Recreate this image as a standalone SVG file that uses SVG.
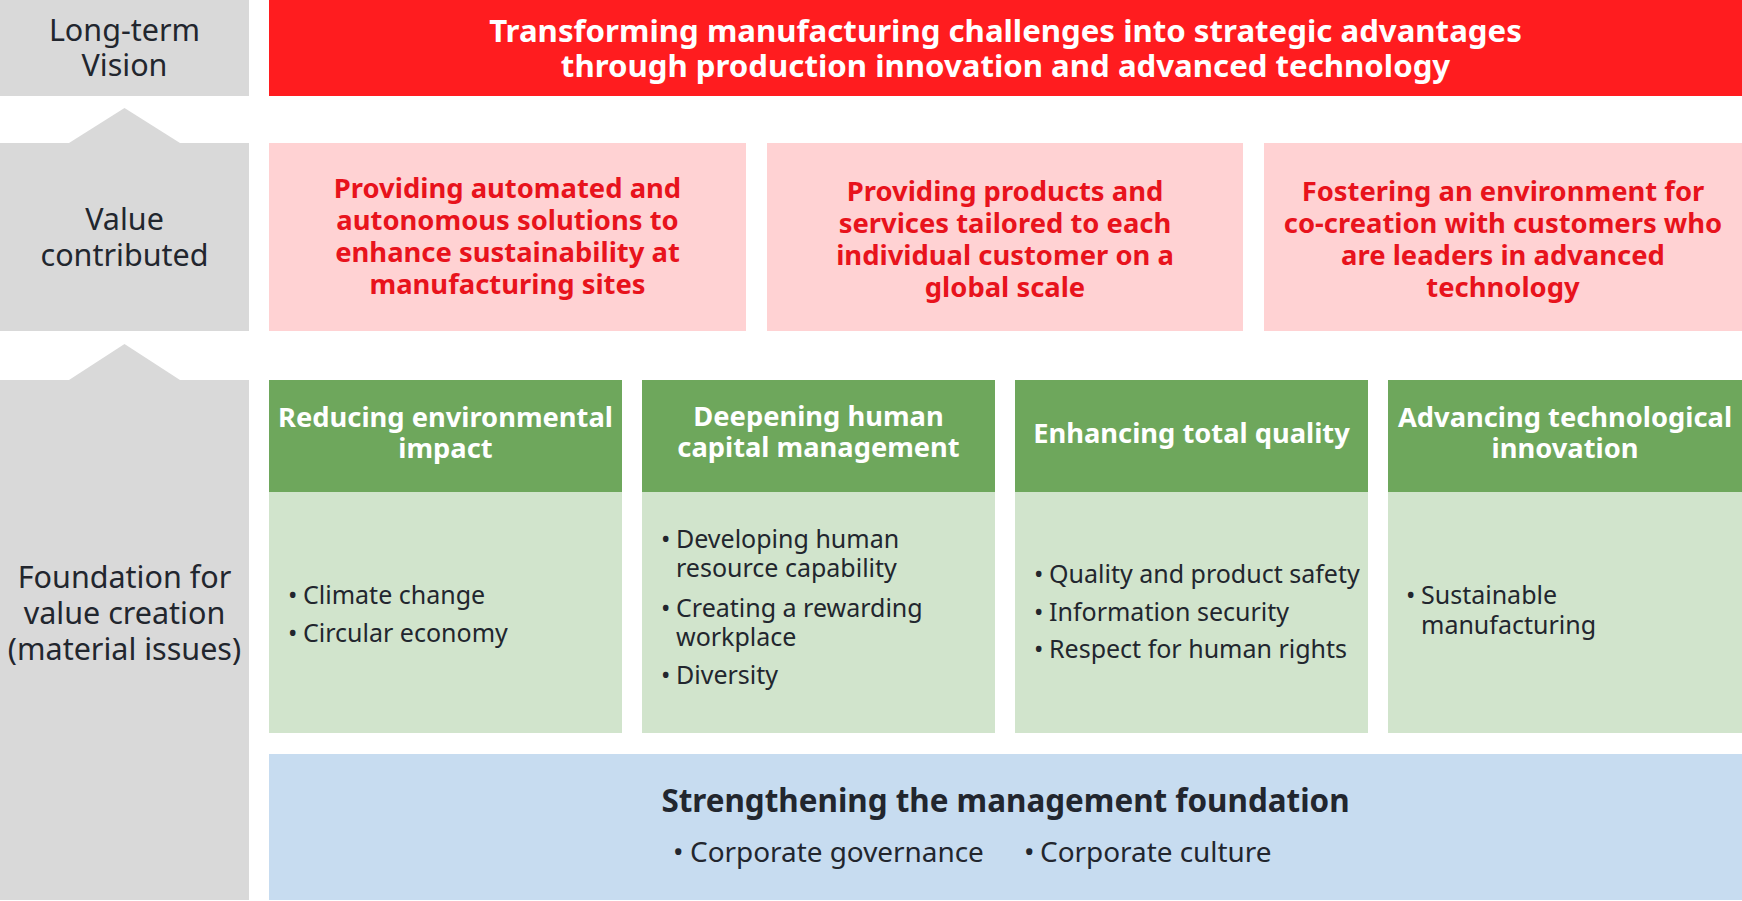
<svg xmlns="http://www.w3.org/2000/svg" width="1742" height="901" viewBox="0 0 1742 901">
<style>
text{font-family:"Noto Sans","Open Sans","Liberation Sans",sans-serif}
.grey{fill:#D9D9D9}
.lab{font-size:30.5px;fill:#22262E;text-anchor:middle}
.vis{fill:#FF1C1F}
.vist{font-size:31.2px;font-weight:bold;fill:#FFFFFF;text-anchor:middle}
.pink{fill:#FFD2D3}
.pt{font-size:27.4px;font-weight:bold;fill:#E8131C;text-anchor:middle}
.gh{fill:#6EA75C}
.gb{fill:#D1E4CC}
.ght{font-size:27.3px;font-weight:bold;fill:#FFFFFF;text-anchor:middle}
.bt{font-size:25px;fill:#22262E}
.blue{fill:#C7DCF0}
.blt{font-size:31.4px;font-weight:bold;fill:#22262E;text-anchor:middle}
.blb{font-size:27.9px;fill:#22262E}
</style>
<g id="labels">
<g id="label-vision"><rect class="grey" x="0" y="0" width="249" height="96"/><text class="lab"><tspan x="124.5" y="41">Long-term</tspan><tspan x="124.5" y="76">Vision</tspan></text></g>
<g id="label-value"><polygon class="grey" points="0,143 69,143 124.5,108 180,143 249,143 249,331 0,331"/><text class="lab"><tspan x="124.5" y="230">Value</tspan><tspan x="124.5" y="266">contributed</tspan></text></g>
<g id="label-foundation"><polygon class="grey" points="0,380 69,380 124.5,344 180,380 249,380 249,900 0,900"/><text class="lab"><tspan x="124.5" y="588">Foundation for</tspan><tspan x="124.5" y="624">value creation</tspan><tspan x="124.5" y="660">(material issues)</tspan></text></g>
</g>
<g id="vision"><rect class="vis" x="269" y="0" width="1473" height="96"/><text class="vist"><tspan x="1005.5" y="42">Transforming manufacturing challenges into strategic advantages</tspan><tspan x="1005.5" y="77">through production innovation and advanced technology</tspan></text></g>
<g id="value-1"><rect class="pink" x="269" y="143" width="477" height="188"/><text class="pt"><tspan x="507.5" y="198">Providing automated and</tspan><tspan x="507.5" y="230">autonomous solutions to</tspan><tspan x="507.5" y="262">enhance sustainability at</tspan><tspan x="507.5" y="294">manufacturing sites</tspan></text></g>
<g id="value-2"><rect class="pink" x="767" y="143" width="476" height="188"/><text class="pt"><tspan x="1005" y="201">Providing products and</tspan><tspan x="1005" y="233">services tailored to each</tspan><tspan x="1005" y="265">individual customer on a</tspan><tspan x="1005" y="297">global scale</tspan></text></g>
<g id="value-3"><rect class="pink" x="1264" y="143" width="478" height="188"/><text class="pt"><tspan x="1503" y="201">Fostering an environment for</tspan><tspan x="1503" y="233">co-creation with customers who</tspan><tspan x="1503" y="265">are leaders in advanced</tspan><tspan x="1503" y="297">technology</tspan></text></g>
<g id="issue-1"><rect class="gh" x="269" y="380" width="353" height="112"/><rect class="gb" x="269" y="492" width="353" height="241"/><text class="ght"><tspan x="445.5" y="427">Reducing environmental</tspan><tspan x="445.5" y="458">impact</tspan></text><text class="bt"><tspan x="288" y="604">•</tspan><tspan x="303" y="604">Climate change</tspan><tspan x="288" y="642">•</tspan><tspan x="303" y="642">Circular economy</tspan></text></g>
<g id="issue-2"><rect class="gh" x="642" y="380" width="353" height="112"/><rect class="gb" x="642" y="492" width="353" height="241"/><text class="ght"><tspan x="818.5" y="426">Deepening human</tspan><tspan x="818.5" y="457">capital management</tspan></text><text class="bt"><tspan x="661" y="548">•</tspan><tspan x="676" y="548">Developing human</tspan><tspan x="676" y="577">resource capability</tspan><tspan x="661" y="617">•</tspan><tspan x="676" y="617">Creating a rewarding</tspan><tspan x="676" y="646">workplace</tspan><tspan x="661" y="684">•</tspan><tspan x="676" y="684">Diversity</tspan></text></g>
<g id="issue-3"><rect class="gh" x="1015" y="380" width="353" height="112"/><rect class="gb" x="1015" y="492" width="353" height="241"/><text class="ght" x="1191.5" y="443">Enhancing total quality</text><text class="bt"><tspan x="1034" y="583">•</tspan><tspan x="1049" y="583">Quality and product safety</tspan><tspan x="1034" y="621">•</tspan><tspan x="1049" y="621">Information security</tspan><tspan x="1034" y="658">•</tspan><tspan x="1049" y="658">Respect for human rights</tspan></text></g>
<g id="issue-4"><rect class="gh" x="1388" y="380" width="354" height="112"/><rect class="gb" x="1388" y="492" width="354" height="241"/><text class="ght"><tspan x="1565" y="427">Advancing technological</tspan><tspan x="1565" y="458">innovation</tspan></text><text class="bt"><tspan x="1406" y="604">•</tspan><tspan x="1421" y="604">Sustainable</tspan><tspan x="1421" y="634">manufacturing</tspan></text></g>
<g id="management"><rect class="blue" x="269" y="754" width="1473" height="146"/><text class="blt" x="1005.5" y="812">Strengthening the management foundation</text><text class="blb"><tspan x="673" y="862">•</tspan><tspan x="690" y="862">Corporate governance</tspan><tspan x="1024" y="862">•</tspan><tspan x="1040" y="862">Corporate culture</tspan></text></g>
<g id="connectors"/>
</svg>
